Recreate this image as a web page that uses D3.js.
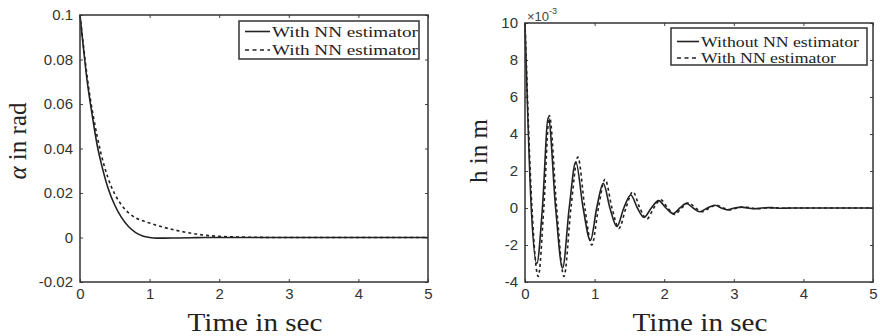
<!DOCTYPE html>
<html lang="en">
<head>
<meta charset="UTF-8">
<script src="https://cdnjs.cloudflare.com/ajax/libs/d3/7.9.0/d3.min.js"></script>
<title>Alpha and h response</title>
<style>
    body { margin: 0; padding: 0; background: #fff; }
    svg { display: block; }
    .tick text { font-family: "Liberation Sans", Arial, sans-serif; font-size: 15px; fill: #333; }
    .title { font-family: "Liberation Serif", "Times New Roman", serif; fill: #222; }
    .leg { font-family: "Liberation Serif", "Times New Roman", serif; font-size: 15px; fill: #222; }
</style>
</head>
<body>
<svg id="chart" width="880" height="336"></svg>
<script>
// ---- data ----
const xTicks = [0, 1, 2, 3, 4, 5];
const alphaTicks = [-0.02, 0, 0.02, 0.04, 0.06, 0.08, 0.1];
const alphaTickLabels = ["-0.02", "0", "0.02", "0.04", "0.06", "0.08", "0.1"];
const hTicks = [-4, -2, 0, 2, 4, 6, 8, 10];

const alphaTime = [0, 0.05, 0.1, 0.15, 0.2, 0.25, 0.3, 0.4, 0.5, 0.6, 0.7, 0.8, 0.9, 1.0, 1.1, 1.2, 1.4, 1.6, 1.8, 2.0, 2.5, 3, 4, 5];
const alphaSolid = [0.1, 0.085, 0.071, 0.06, 0.05, 0.041, 0.034, 0.0225, 0.0145, 0.0088, 0.0048, 0.0022, 0.0007, 0.0, -0.0003, -0.0003, -0.0002, -0.0001, 0, 0, 0, 0, 0, 0];
const alphaDashed = [0.1, 0.086, 0.073, 0.062, 0.053, 0.045, 0.038, 0.027, 0.0195, 0.0145, 0.011, 0.0088, 0.0075, 0.0065, 0.0055, 0.0046, 0.0031, 0.0019, 0.001, 0.0005, 0.0001, 0, 0, 0];
const alphaLegend = ["With NN estimator", "With NN estimator"];

const hTimeSolid = [0, 0.09, 0.17, 0.25, 0.335, 0.44, 0.54, 0.635, 0.73, 0.835, 0.94, 1.03, 1.125, 1.22, 1.32, 1.42, 1.52, 1.615, 1.71, 1.815, 1.92, 2.025, 2.13, 2.225, 2.32, 2.415, 2.51, 2.62, 2.73, 2.82, 2.91, 3.01, 3.11, 3.2, 3.3, 3.4, 3.5, 3.6, 3.7, 3.8, 5];
const hSolid = [10, 0, -3.0, 0, 4.9, 0, -3.25, 0, 2.5, 0, -1.75, 0, 1.33, 0, -1.0, 0, 0.7, 0, -0.5, 0, 0.4, 0, -0.3, 0, 0.25, 0, -0.2, 0, 0.15, 0, -0.1, 0, 0.05, 0, -0.04, 0, 0.02, 0, -0.01, 0, 0];
const hTimeDashed = [0, 0.1, 0.19, 0.27, 0.35, 0.455, 0.56, 0.66, 0.76, 0.86, 0.96, 1.055, 1.15, 1.25, 1.35, 1.45, 1.55, 1.65, 1.75, 1.85, 1.95, 2.05, 2.15, 2.25, 2.35, 2.45, 2.55, 2.65, 2.75, 2.85, 2.95, 3.05, 3.15, 3.25, 3.35, 3.45, 3.55, 3.65, 3.75, 3.85, 5];
const hDashed = [10, 0, -3.7, 0, 5.0, 0, -3.7, 0, 2.75, 0, -2.0, 0, 1.55, 0, -1.1, 0, 0.88, 0, -0.6, 0, 0.45, 0, -0.35, 0, 0.28, 0, -0.2, 0, 0.15, 0, -0.1, 0, 0.06, 0, -0.04, 0, 0.02, 0, -0.01, 0, 0];
const hLegend = ["Without NN estimator", "With NN estimator"];

const svg = d3.select("#chart");

function panel(opt) {
    const x = d3.scaleLinear().domain([0, 5]).range([opt.left, opt.right]);
    const y = d3.scaleLinear().domain(opt.yDomain).range([282, opt.top]);
    const g = svg.append("g");

    // inward ticks on all four sides
    const xb = g.append("g").attr("transform", "translate(0,282)")
        .call(d3.axisBottom(x).tickValues(xTicks).tickFormat(d3.format("d")).tickSizeInner(-3).tickSizeOuter(0).tickPadding(6));
    const xt = g.append("g").attr("transform", `translate(0,${opt.top})`)
        .call(d3.axisTop(x).tickValues(xTicks).tickSizeInner(-3).tickSizeOuter(0).tickFormat(""));
    const yl = g.append("g").attr("transform", `translate(${opt.left},0)`)
        .call(d3.axisLeft(y).tickValues(opt.yTicks).tickSizeInner(-3).tickSizeOuter(0).tickPadding(7)
            .tickFormat((d, i) => opt.yLabels ? opt.yLabels[i] : d));
    const yr = g.append("g").attr("transform", `translate(${opt.right},0)`)
        .call(d3.axisRight(y).tickValues(opt.yTicks).tickSizeInner(-3).tickSizeOuter(0).tickFormat(""));
    [xb, xt, yl, yr].forEach(s => {
        s.select(".domain").remove();
        s.selectAll("line").attr("stroke", "#444");
    });

    const line = d3.line().x(d => x(d[0])).y(d => y(d[1])).curve(d3.curveMonotoneX);
    g.append("path").datum(d3.zip(opt.tSolid, opt.solid)).attr("d", line)
        .attr("fill", "none").attr("stroke", "#222").attr("stroke-width", 1.6);
    g.append("path").datum(d3.zip(opt.tDashed, opt.dashed)).attr("d", line)
        .attr("fill", "none").attr("stroke", "#222").attr("stroke-width", 1.6).attr("stroke-dasharray", "3,3");

    // frame
    g.append("rect").attr("x", opt.left).attr("y", opt.top)
        .attr("width", opt.right - opt.left).attr("height", 282 - opt.top)
        .attr("fill", "none").attr("stroke", "#333").attr("stroke-width", 1.5);

    // legend
    const L = opt.legend;
    g.append("rect").attr("x", L.x0).attr("y", L.y0).attr("width", L.x1 - L.x0).attr("height", L.y1 - L.y0)
        .attr("fill", "#fff").attr("stroke", "#333").attr("stroke-width", 1.5);
    L.labels.forEach((t, i) => {
        const cy = L.rows[i];
        g.append("line").attr("x1", L.x0 + 6).attr("x2", L.textX - 2).attr("y1", cy).attr("y2", cy)
            .attr("stroke", "#222").attr("stroke-width", 1.6).attr("stroke-dasharray", i ? "4,3.5" : null);
        g.append("text").attr("class", "leg").attr("x", L.textX).attr("y", cy + 5).text(t)
            .attr("textLength", L.widths[i]).attr("lengthAdjust", "spacingAndGlyphs");
    });

    // axis titles
    g.append("text").attr("class", "title").attr("x", (opt.left + opt.right) / 2 + 1).attr("y", 331)
        .attr("text-anchor", "middle").attr("font-size", 26)
        .attr("textLength", 135).attr("lengthAdjust", "spacingAndGlyphs").text("Time in sec");
    const yt = g.append("text").attr("class", "title").attr("font-size", 25).attr("text-anchor", "middle")
        .attr("transform", `translate(${opt.yTitleX},${opt.yTitleY}) rotate(-90)`);
    return { g, yt };
}

const p1 = panel({
    left: 80, right: 428, top: 15, yDomain: [-0.02, 0.1], yTicks: alphaTicks, yLabels: alphaTickLabels,
    tSolid: alphaTime, solid: alphaSolid, tDashed: alphaTime, dashed: alphaDashed,
    legend: { x0: 239, x1: 419, y0: 21, y1: 59, rows: [31.5, 50], textX: 272, labels: alphaLegend, widths: [146, 146] },
    yTitleX: 26, yTitleY: 141
});
p1.yt.append("tspan").attr("font-style", "italic").text("α");
p1.yt.append("tspan").text(" in rad");

const p2 = panel({
    left: 525, right: 873, top: 23, yDomain: [-4, 10], yTicks: hTicks,
    tSolid: hTimeSolid, solid: hSolid, tDashed: hTimeDashed, dashed: hDashed,
    legend: { x0: 671, x1: 867, y0: 28, y1: 65, rows: [41.5, 58], textX: 701, labels: hLegend, widths: [158, 135] },
    yTitleX: 487, yTitleY: 151
});
p2.yt.text("h in m");

// exponent label
const ex = svg.append("text").attr("x", 527).attr("y", 21)
    .attr("font-family", "Liberation Sans, Arial, sans-serif").attr("font-size", 13).attr("fill", "#444");
ex.append("tspan").text("×10");
ex.append("tspan").attr("dy", -7).attr("font-size", 9).text("-3");
</script>
</body>
</html>
